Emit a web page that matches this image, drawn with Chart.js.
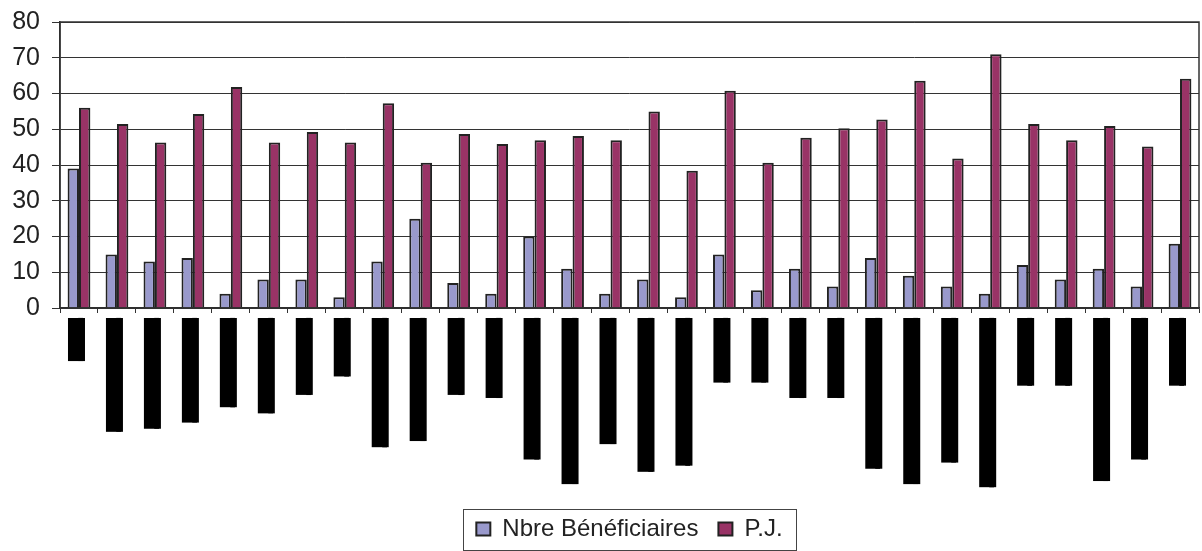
<!DOCTYPE html>
<html><head><meta charset="utf-8">
<script src="https://cdn.jsdelivr.net/npm/chart.js@4"></script>
<style>html,body{margin:0;padding:0;background:#fff}</style>
</head><body>
<canvas id="c" width="1202" height="551"></canvas>
<script>
// Category labels are blacked out in the original: each is a run of block characters
const labelBlocks = [14, 37, 36, 34, 29, 31, 25, 19, 42, 40, 25, 26, 46, 54, 41, 50, 48, 21, 21, 26, 26, 49, 54, 47, 55, 22, 22, 53, 46, 22];
const categories = labelBlocks.map(n => '\u2588'.repeat(n));
const seriesNames = ['Nbre Bénéficiaires', 'P.J.'];
const beneficiaires = [39, 15, 13, 14, 4, 8, 8, 3, 13, 25, 7, 4, 20, 11, 4, 8, 3, 15, 5, 11, 6, 14, 9, 6, 4, 12, 8, 11, 6, 18];
const pj = [56, 51.5, 46.3, 54.3, 61.8, 46.3, 49.2, 46.3, 57.3, 40.6, 48.7, 45.9, 46.9, 48.1, 46.9, 55.0, 38.4, 60.8, 40.6, 47.6, 50.3, 52.7, 63.6, 41.8, 71.0, 51.5, 46.9, 50.9, 45.2, 64.1];
const yTicks = [0, 10, 20, 30, 40, 50, 60, 70, 80];

const frame = {
  id: 'frame',
  afterLayout(chart) {
    // centre the legend under the plot area rather than the canvas
    const lg = chart.legend;
    if (!lg) return;
    const a = chart.chartArea;
    const shift = (a.left + a.right) / 2 - (lg.left + lg.right) / 2;
    lg.left += shift; lg.right += shift;
  },
  afterDraw(chart) {
    const {ctx, chartArea: a, legend} = chart;
    ctx.save();
    ctx.strokeStyle = '#333';
    ctx.lineWidth = 1.5;
    ctx.strokeRect(a.left, a.top, a.right - a.left, a.bottom - a.top);
    if (legend && legend.legendHitBoxes && legend.legendHitBoxes.length) {
      const hb = legend.legendHitBoxes;
      const l = Math.min(...hb.map(h => h.left)) - 13;
      const r = Math.max(...hb.map(h => h.left + h.width)) + 14;
      const t = Math.min(...hb.map(h => h.top)) - 8;
      const b = chart.height - 1;
      ctx.strokeStyle = '#444';
      ctx.lineWidth = 1;
      ctx.strokeRect(Math.round(l) + 0.5, Math.round(t) + 0.5, Math.round(r - l), Math.round(b - t));
    }
    ctx.restore();
  }
};

new Chart(document.getElementById('c'), {
  type: 'bar',
  data: {
    labels: categories,
    datasets: [
      {label: seriesNames[0], data: beneficiaires, backgroundColor: '#9999cc', borderColor: '#222', borderWidth: 2, borderSkipped: 'bottom'},
      {label: seriesNames[1], data: pj, backgroundColor: '#993366', borderColor: '#222', borderWidth: 2, borderSkipped: 'bottom'}
    ]
  },
  options: {
    responsive: false,
    animation: false,
    devicePixelRatio: 1,
    datasets: {bar: {categoryPercentage: 0.6, barPercentage: 1.0}},
    layout: {padding: {top: 17, right: 3, left: 0, bottom: 0}},
    plugins: {
      tooltip: {enabled: false},
      legend: {
        position: 'bottom',
        labels: {font: {family: 'Liberation Sans', size: 24}, color: '#222', boxWidth: 14, boxHeight: 13, padding: 20}
      }
    },
    scales: {
      x: {
        offset: true,
        grid: {offset: true, drawOnChartArea: false, drawTicks: true, tickLength: 5, color: '#333'},
        border: {color: '#222', width: 1.5},
        ticks: {
          autoSkip: false, minRotation: 90, maxRotation: 90, padding: 5, color: '#000',
          font: {family: 'DejaVu Sans', size: 4, lineHeight: 1},
          showLabelBackdrop: true, backdropColor: '#000',
          backdropPadding: {top: 11, bottom: 2, left: 0, right: 0}
        },
        afterFit: s => { s.height = 189; }
      },
      y: {
        min: 0, max: 80,
        afterBuildTicks: s => { s.ticks = yTicks.map(v => ({value: v})); },
        ticks: {font: {family: 'Liberation Sans', size: 25, lineHeight: 0.8}, color: '#222', padding: 12},
        grid: {color: '#333', lineWidth: 1, tickLength: 8},
        border: {color: '#222', width: 1.5},
        afterFit: s => { s.width = 60; }
      }
    }
  },
  plugins: [frame]
});
</script>
</body></html>
